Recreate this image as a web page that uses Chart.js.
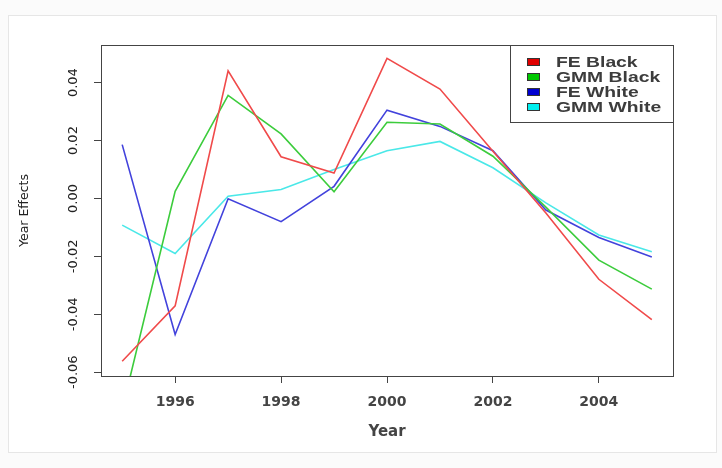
<!DOCTYPE html>
<html>
<head>
<meta charset="utf-8">
<script src="https://cdn.jsdelivr.net/npm/chart.js@4.4.1/dist/chart.umd.min.js"></script>
<style>
  html, body { margin: 0; padding: 0; background: #fbfbfb; }
  #card { position: absolute; left: 8px; top: 15px; width: 707px; height: 436px;
          background: #fff; border: 1px solid #e6e6e6; }
  #wrap { position: absolute; left: 0; top: 0; width: 722px; height: 468px; }
</style>
</head>
<body>
<div id="card"></div>
<div id="wrap"><canvas id="yearChart" width="722" height="468"></canvas></div>
<script>
// ========== DATA ==========
const years = [1995, 1996, 1997, 1998, 1999, 2000, 2001, 2002, 2003, 2004, 2005];
const feBlack = [-0.0562, -0.0371, 0.0441, 0.0144, 0.0088, 0.0484, 0.0378, 0.0163, -0.0050, -0.0279, -0.0418];
const gmmBlack = [-0.0729, 0.0025, 0.0356, 0.0223, 0.0023, 0.0263, 0.0257, 0.0146, -0.0030, -0.0213, -0.0313];
const feWhite = [0.0186, -0.0470, -0.0001, -0.0080, 0.0042, 0.0305, 0.0249, 0.0165, -0.0040, -0.0135, -0.0202];
const gmmWhite = [-0.0092, -0.0190, 0.0008, 0.0031, 0.0100, 0.0165, 0.0197, 0.0106, -0.0015, -0.0126, -0.0184];
const xTicks = [1996, 1998, 2000, 2002, 2004];
const yTicks = [-0.06, -0.04, -0.02, 0.0, 0.02, 0.04];

const SERIES = [
  { label: "FE Black", data: feBlack, line: "#f04a4a", key: "#e00000" },
  { label: "GMM Black", data: gmmBlack, line: "#3ccc3c", key: "#00c800" },
  { label: "FE White", data: feWhite, line: "#4242dc", key: "#0000d0" },
  { label: "GMM White", data: gmmWhite, line: "#4ae8e8", key: "#00f0f0" },
];

const FONT = "'DejaVu Sans', 'Liberation Sans', sans-serif";
const INK = "#222";

// box around the plot region, like R's box()
const frame = {
  id: "frame",
  afterDraw(chart) {
    const { ctx, chartArea: a } = chart;
    ctx.save();
    ctx.strokeStyle = "#444";
    ctx.lineWidth = 1;
    ctx.strokeRect(a.left + 0.5, a.top + 0.5, a.right - a.left, a.bottom - a.top);
    ctx.restore();
  },
};

// topright boxed legend; text is widened a bit like the source image
const boxLegend = {
  id: "boxLegend",
  afterDraw(chart) {
    const { ctx, chartArea: a } = chart;
    const w = 163, h = 77;
    const left = a.right - w, top = a.top;
    ctx.save();
    ctx.fillStyle = "#fff";
    ctx.fillRect(left, top, w, h);
    ctx.strokeStyle = "#444";
    ctx.lineWidth = 1;
    ctx.strokeRect(left + 0.5, top + 0.5, w, h);
    ctx.textBaseline = "middle";
    chart.data.datasets.forEach((ds, i) => {
      const cy = top + 17 + i * 15;
      ctx.fillStyle = SERIES[i].key;
      ctx.fillRect(left + 17, cy - 4, 13, 8);
      ctx.strokeStyle = "#333";
      ctx.strokeRect(left + 17.5, cy - 3.5, 12, 7);
      ctx.save();
      ctx.translate(left + 46, cy + 1);
      ctx.scale(1.38, 1);
      ctx.font = "bold 14px 'Liberation Sans', Arial, sans-serif";
      ctx.fillStyle = "#3c3c3c";
      ctx.fillText(ds.label, 0, 0);
      ctx.restore();
    });
    ctx.restore();
  },
};

new Chart(document.getElementById("yearChart"), {
  type: "line",
  data: {
    datasets: SERIES.map((s) => ({
      label: s.label,
      data: s.data.map((v, i) => ({ x: years[i], y: v })),
      borderColor: s.line,
      backgroundColor: s.line,
      borderWidth: 1.6,
      pointRadius: 0,
      tension: 0,
    })),
  },
  options: {
    responsive: false,
    animation: false,
    layout: { padding: { top: 45, right: 49, left: 0, bottom: 0 } },
    plugins: { legend: { display: false }, tooltip: { enabled: false } },
    scales: {
      x: {
        type: "linear",
        min: 1994.6,
        max: 2005.4,
        afterBuildTicks: (s) => { s.ticks = xTicks.map((v) => ({ value: v })); },
        afterFit: (s) => { s.height = 92; },
        grid: { drawOnChartArea: false, tickLength: 7, color: "#444" },
        border: { display: false },
        ticks: { color: "#444", padding: 11, font: { family: FONT, size: 14, weight: "bold" }, callback: (v) => String(v) },
        title: { display: true, text: "Year", color: "#444", font: { family: FONT, size: 15, weight: "bold" }, padding: { bottom: 27 } },
      },
      y: {
        min: -0.0613,
        max: 0.053,
        afterBuildTicks: (s) => { s.ticks = yTicks.map((v) => ({ value: v })); },
        afterFit: (s) => { s.width = 101; },
        grid: { drawOnChartArea: false, tickLength: 7, color: "#444" },
        border: { display: false },
        ticks: {
          color: INK, padding: 4, minRotation: 90, maxRotation: 90, crossAlign: "center",
          font: { family: FONT, size: 13 }, callback: (v) => v.toFixed(2),
        },
        title: { display: true, text: "Year Effects", color: INK, font: { family: FONT, size: 12.5 }, padding: { top: 17 } },
      },
    },
  },
  plugins: [frame, boxLegend],
});
</script>
</body>
</html>
